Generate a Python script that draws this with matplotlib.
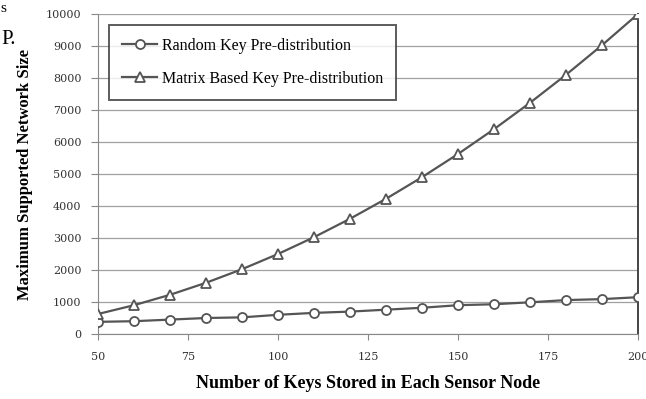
import matplotlib
matplotlib.use("Agg")
import matplotlib.pyplot as plt

# Keys stored per sensor node
keys = [50, 60, 70, 80, 90, 100, 110, 120, 130, 140, 150, 160, 170, 180, 190, 200]

# Maximum supported network size for each scheme
random_kp = [380, 400, 450, 500, 520, 600, 660, 700, 760, 820, 900, 930, 990, 1060, 1090, 1150]
matrix_kp = [625, 900, 1225, 1600, 2025, 2500, 3025, 3600, 4225, 4900, 5625, 6400, 7225, 8100, 9025, 10000]

x_ticks = [50, 75, 100, 125, 150, 175, 200]
y_ticks = list(range(0, 10001, 1000))

series_labels = ["Random Key Pre-distribution", "Matrix Based Key Pre-distribution"]
x_label = "Number of Keys Stored in Each Sensor Node"
y_label = "Maximum Supported Network Size"

plt.rcParams["font.family"] = ["Liberation Serif", "DejaVu Serif"]

fig = plt.figure(figsize=(6.46, 3.99), dpi=100)
ax = fig.add_axes([0.1517, 0.1629, 0.8359, 0.8020])

line_col = "#555555"
ax.plot(keys, random_kp, color=line_col, lw=1.6, marker="o", ms=6.5,
        mfc="white", mec=line_col, mew=1.3, label=series_labels[0], zorder=3)
ax.plot(keys, matrix_kp, color=line_col, lw=1.6, marker="^", ms=7,
        mfc="white", mec=line_col, mew=1.3, label=series_labels[1], zorder=3)

ax.set_xlim(50, 200)
ax.set_ylim(0, 10000)
ax.set_xticks(x_ticks)
ax.set_yticks(y_ticks)
ax.tick_params(axis="both", colors="#888888", width=0.8)
ax.tick_params(axis="y", length=5, pad=7)
ax.tick_params(axis="x", length=4, pad=9)
for lab in ax.get_xticklabels() + ax.get_yticklabels():
    lab.set_fontfamily("DejaVu Serif")
    lab.set_fontsize(8)
    lab.set_color("#333333")

ax.yaxis.grid(True, color="#a0a0a0", lw=0.9)
ax.set_axisbelow(True)
ax.spines["top"].set_visible(False)
ax.spines["left"].set_color("#888888")
ax.spines["bottom"].set_color("#888888")
ax.spines["right"].set_color("#444444")
ax.spines["right"].set_linewidth(1.4)

ax.set_xlabel(x_label, fontsize=13, fontweight="bold", labelpad=9)
ax.set_ylabel(y_label, fontsize=12, fontweight="bold", labelpad=9)

leg = ax.legend(loc="upper left", bbox_to_anchor=(0.015, 0.975), fontsize=11.5,
                frameon=True, fancybox=False, edgecolor="#333333",
                handlelength=2.2, borderpad=0.8, labelspacing=1.05,
                handletextpad=0.3, borderaxespad=0.2)
leg.get_frame().set_linewidth(1.4)

# Stray page text in the left margin
fig.text(0.0, 0.995, "s", fontsize=11, va="top", ha="left")
fig.text(0.002, 0.925, "P.", fontsize=15, va="top", ha="left")

fig.savefig("out.png", dpi=100)
